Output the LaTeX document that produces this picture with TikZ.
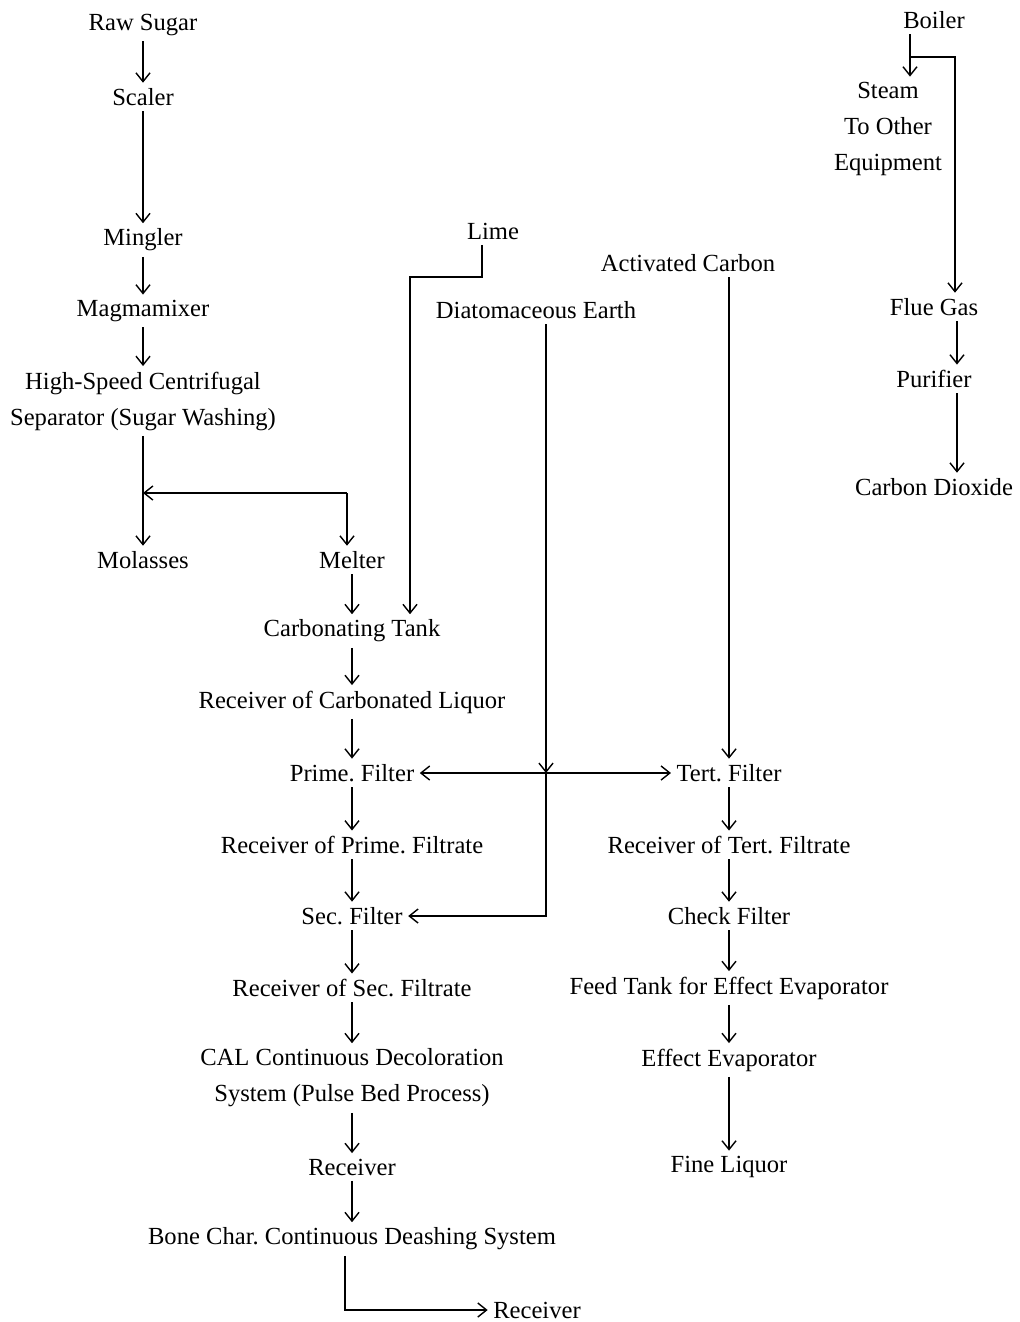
\documentclass[tikz,border=0pt]{standalone}
\usepackage{fontspec}
\setmainfont{Liberation Serif}
\frenchspacing
\usetikzlibrary{arrows.meta}
\tikzset{
	unit/.style={font=\fontsize{14}{20.5}\selectfont, inner sep=3pt, align=center},
	flow/.style={line width=0.8pt, -{Straight Barb[length=5pt,width=8pt]}},
	plain/.style={line width=0.8pt}
}
\begin{document}
\begin{tikzpicture}[x=0.02cm,y=-0.02cm]
	\useasboundingbox (0,0) rectangle (1019,1322);
	
	% sugar line
	\node[unit] (rawsugar) at (143,25) {Raw Sugar};
	\node[unit] (scaler) at (143,97) {Scaler};
	\node[unit] (mingler) at (143,240) {Mingler};
	\node[unit] (magma) at (143,311) {Magmamixer};
	\node[unit] (separator) at (143,401) {High-Speed Centrifugal\\Separator (Sugar Washing)};
	\node[unit] (molasses) at (143,560) {Molasses};
	\node[unit] (melter) at (352,560) {Melter};
	\node[unit] (carbtank) at (352,631) {Carbonating Tank};
	\node[unit] (carbrecv) at (352,702) {Receiver of Carbonated Liquor};
	\node[unit] (prime) at (352,773) {Prime. Filter};
	\node[unit] (primerecv) at (352,845) {Receiver of Prime. Filtrate};
	\node[unit] (sec) at (352,916) {Sec. Filter};
	\node[unit] (secrecv) at (352,988) {Receiver of Sec. Filtrate};
	\node[unit] (cal) at (352,1078) {CAL Continuous Decoloration\\System (Pulse Bed Process)};
	\node[unit] (calrecv) at (352,1167) {Receiver};
	\node[unit] (bonechar) at (352,1239) {Bone Char. Continuous Deashing System};
	\node[unit] (lastrecv) at (537,1310) {Receiver};
	
	% additives
	\node[unit] (lime) at (493,231) {Lime};
	\node[unit] (diatom) at (536,310) {Diatomaceous Earth};
	\node[unit] (actcarbon) at (688,263) {Activated Carbon};
	
	% tert. line
	\node[unit] (tert) at (729,773) {Tert. Filter};
	\node[unit] (tertrecv) at (729,845) {Receiver of Tert. Filtrate};
	\node[unit] (check) at (729,916) {Check Filter};
	\node[unit] (feedtank) at (729,988) {Feed Tank for Effect Evaporator};
	\node[unit] (evap) at (729,1060) {Effect Evaporator};
	\node[unit] (fineliq) at (729,1167) {Fine Liquor};
	
	% boiler
	\node[unit] (boiler) at (934,20) {Boiler};
	\node[unit] (steam) at (888,129) {Steam\\To Other\\Equipment};
	\node[unit] (fluegas) at (934,307) {Flue Gas};
	\node[unit] (purifier) at (934,379) {Purifier};
	\node[unit] (co2) at (934,487) {Carbon Dioxide};
	
	\coordinate (washsplit) at (347,493);
	\coordinate (limeknee) at (410,277);
	\coordinate (dsplit) at (546,773);
	\coordinate (bsplit) at (910,57);
	\coordinate (bknee) at (955,57);
	\coordinate (fluex) at (957,0);
	
	\draw[flow] (rawsugar) -- (scaler);
	\draw[flow] (scaler) -- (mingler);
	\draw[flow] (mingler) -- (magma);
	\draw[flow] (magma) -- (separator);
	\draw[flow] (separator) -- (molasses);
	\draw[flow] (washsplit) -- (washsplit -| separator);
	\draw[flow] (washsplit) -- (washsplit |- melter.north);
	\draw[flow] (melter) -- (carbtank);
	\draw[flow] (lime.south) ++(-11,0) |- (limeknee) -- (limeknee |- carbtank.north);
	\draw[flow] (carbtank) -- (carbrecv);
	\draw[flow] (carbrecv) -- (prime);
	\draw[flow] (prime) -- (primerecv);
	\draw[flow] (primerecv) -- (sec);
	\draw[flow] (sec) -- (secrecv);
	\draw[flow] (secrecv) -- (cal);
	\draw[flow] (cal) -- (calrecv);
	\draw[flow] (calrecv) -- (bonechar);
	\draw[flow] (bonechar.south) ++(-7,0) |- (lastrecv);
	
	\draw[flow] (diatom.south) ++(10,0) -- (dsplit);
	\draw[flow] (dsplit) -- (prime);
	\draw[flow] (dsplit) -- (tert);
	\draw[flow] (dsplit) |- (sec);
	\draw[flow] (actcarbon.south -| tert) -- (tert);
	
	\draw[flow] (tert) -- (tertrecv);
	\draw[flow] (tertrecv) -- (check);
	\draw[flow] (check) -- (feedtank);
	\draw[flow] (feedtank) -- (evap);
	\draw[flow] (evap) -- (fineliq);
	
	\draw[flow] (boiler.south -| bsplit) -- (bsplit |- steam.north);
	\draw[flow] (bsplit) -- (bknee) -- (bknee |- fluegas.north);
	\draw[flow] (fluegas.south -| fluex) -- (purifier.north -| fluex);
	\draw[flow] (purifier.south -| fluex) -- (co2.north -| fluex);
	
\end{tikzpicture}
\end{document}
